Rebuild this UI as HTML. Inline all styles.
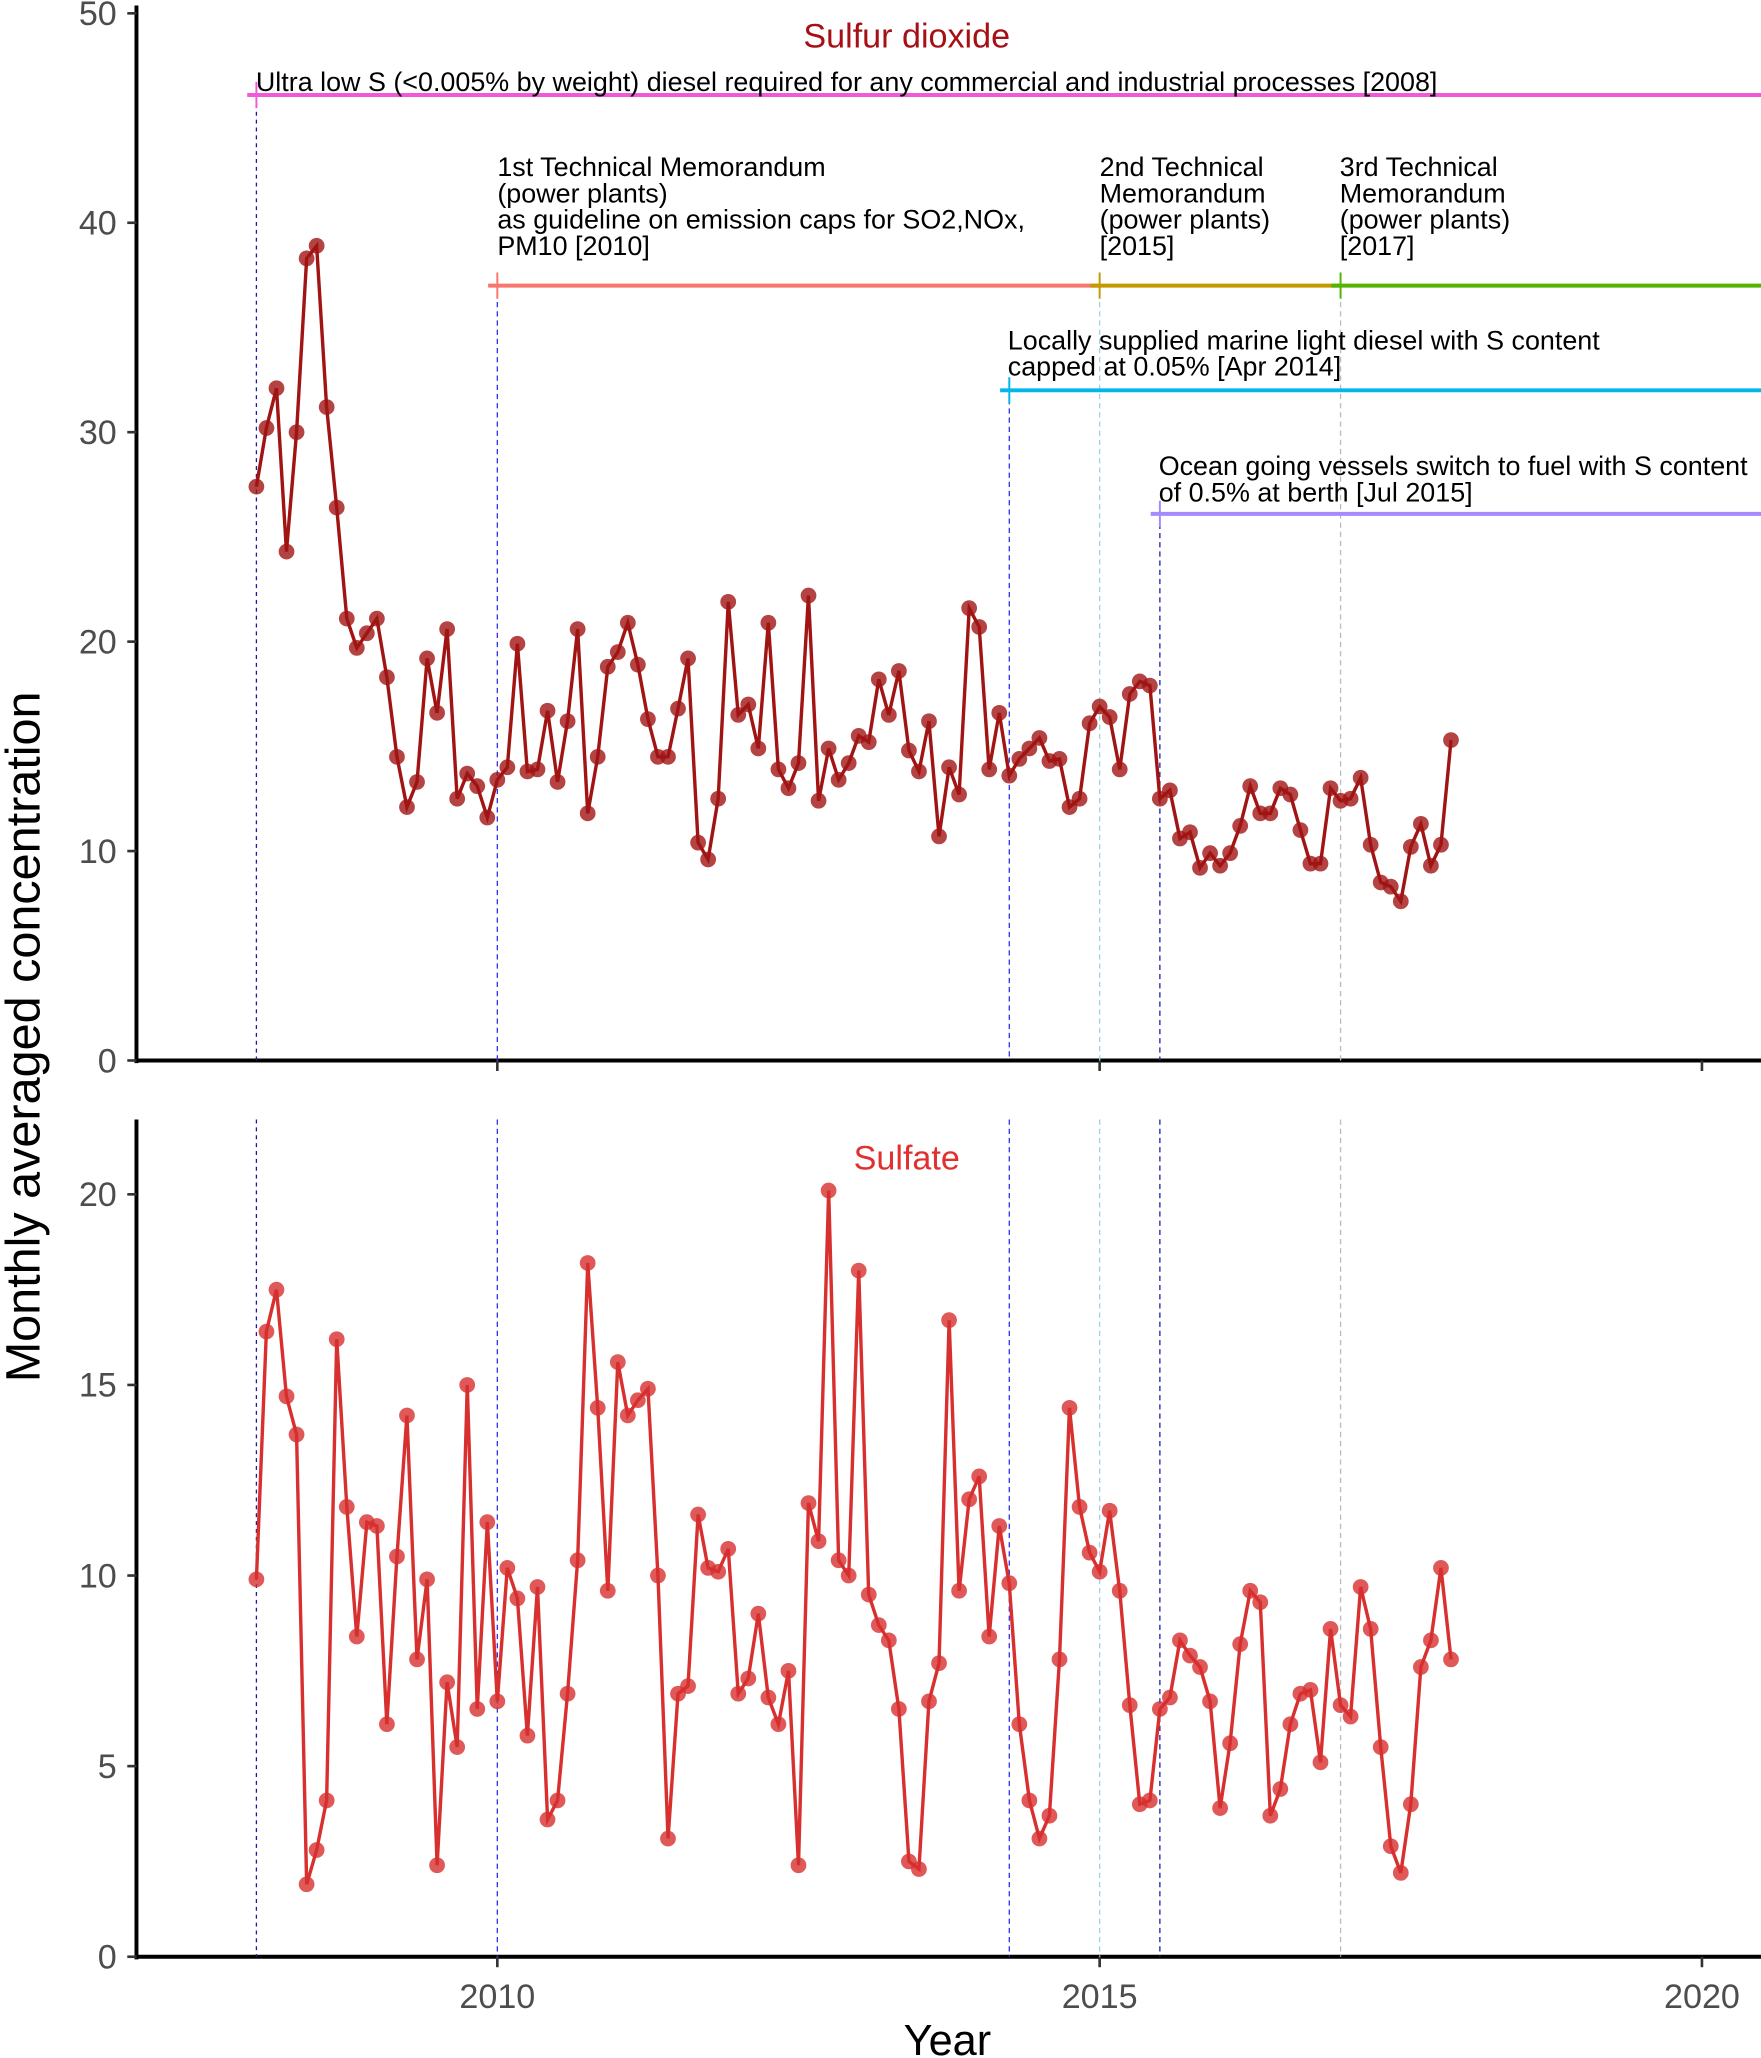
<!DOCTYPE html>
<html><head><meta charset="utf-8"><style>
html,body{margin:0;padding:0;background:#fff;}
svg{display:block;}
text{font-family:"Liberation Sans",Arial,sans-serif;}
</style></head><body>
<svg id="chart" width="1761" height="2058" viewBox="0 0 1342 1568" xmlns="http://www.w3.org/2000/svg"></svg>
<script>
const so2Values = [27.4,30.2,32.1,24.3,30.0,38.3,38.9,31.2,26.4,21.1,19.7,20.4,
21.1,18.3,14.5,12.1,13.3,19.2,16.6,20.6,12.5,13.7,13.1,11.6,
13.4,14.0,19.9,13.8,13.9,16.7,13.3,16.2,20.6,11.8,14.5,18.8,
19.5,20.9,18.9,16.3,14.5,14.5,16.8,19.2,10.4,9.6,12.5,21.9,
16.5,17.0,14.9,20.9,13.9,13.0,14.2,22.2,12.4,14.9,13.4,14.2,
15.5,15.2,18.2,16.5,18.6,14.8,13.8,16.2,10.7,14.0,12.7,21.6,
20.7,13.9,16.6,13.6,14.4,14.9,15.4,14.3,14.4,12.1,12.5,16.1,
16.9,16.4,13.9,17.5,18.1,17.9,12.5,12.9,10.6,10.9,9.2,9.9,
9.3,9.9,11.2,13.1,11.8,11.8,13.0,12.7,11.0,9.4,9.4,13.0,
12.4,12.5,13.5,10.3,8.5,8.3,7.6,10.2,11.3,9.3,10.3,15.3];
const sulfateValues = [9.9,16.4,17.5,14.7,13.7,1.9,2.8,4.1,16.2,11.8,8.4,11.4,
11.3,6.1,10.5,14.2,7.8,9.9,2.4,7.2,5.5,15.0,6.5,11.4,
6.7,10.2,9.4,5.8,9.7,3.6,4.1,6.9,10.4,18.2,14.4,9.6,
15.6,14.2,14.6,14.9,10.0,3.1,6.9,7.1,11.6,10.2,10.1,10.7,
6.9,7.3,9.0,6.8,6.1,7.5,2.4,11.9,10.9,20.1,10.4,10.0,
18.0,9.5,8.7,8.3,6.5,2.5,2.3,6.7,7.7,16.7,9.6,12.0,
12.6,8.4,11.3,9.8,6.1,4.1,3.1,3.7,7.8,14.4,11.8,10.6,
10.1,11.7,9.6,6.6,4.0,4.1,6.5,6.8,8.3,7.9,7.6,6.7,
3.9,5.6,8.2,9.6,9.3,3.7,4.4,6.1,6.9,7.0,5.1,8.6,
6.6,6.3,9.7,8.6,5.5,2.9,2.2,4.0,7.6,8.3,10.2,7.8];
const startYear = 2008.0;
const xTicks = [2010, 2015, 2020];
const so2Ticks = [0, 10, 20, 30, 40, 50];
const sulfateTicks = [0, 5, 10, 15, 20];
const eventYears = [2008.0, 2010.0, 2014.25, 2015.0, 2015.5, 2017.0];
const policyLevels = [46.1, 37.0, 37.0, 37.0, 32.0, 26.1];

const NS = "http://www.w3.org/2000/svg";
const svg = document.getElementById('chart');
function mk(tag, attrs, parent) {
  const e = document.createElementNS(NS, tag);
  for (const k in attrs) e.setAttribute(k, attrs[k]);
  (parent || svg).appendChild(e);
  return e;
}
const X = yr => 379 + (yr - 2010) * 91.8;
const Y1 = v => 808 - v * 15.96;
const Y2 = v => 1491 - v * 29.05;
const monthYear = i => startYear + i / 12;

function axes(Yf, ticks, top, bottom, name) {
  const g = mk('g', {});
  
  
  mk('line', {x1:104, y1:top, x2:104, y2:bottom+2, stroke:'#000', 'stroke-width':3}, g);
  mk('line', {x1:103, y1:bottom, x2:1342, y2:bottom, stroke:'#000', 'stroke-width':3}, g);
  ticks.forEach(t => {
    mk('line', {x1:97, y1:Yf(t), x2:104, y2:Yf(t), stroke:'#333', 'stroke-width':2}, g);
    const tx = mk('text', {x:89, y:Yf(t)+9, 'text-anchor':'end', 'font-size':26, fill:'#4d4d4d'}, g);
    tx.textContent = t;
    
    
  });
  xTicks.forEach(t => {
    mk('line', {x1:X(t), y1:bottom, x2:X(t), y2:bottom+8, stroke:'#333', 'stroke-width':2}, g);
  });
}
axes(Y1, so2Ticks, 4, 808, 'so2-axes');
axes(Y2, sulfateTicks, 853, 1491, 'sulfate-axes');
xTicks.forEach(t => {
  const tx = mk('text', {x:X(t), y:1530, 'text-anchor':'middle', 'font-size':26, fill:'#4d4d4d'});
  tx.textContent = t;
  
  
});

const vStyles = [
  {stroke:'#1a1aa0', dash:'3,3'}, {stroke:'#3333ee', dash:'4,3'}, {stroke:'#3333ee', dash:'4,3'},
  {stroke:'#9fd3e8', dash:'4,3'}, {stroke:'#2222aa', dash:'4,3'}, {stroke:'#bbbbbb', dash:'4,3'}];
eventYears.forEach((yr, i) => {
  [[10, 808], [853, 1491]].forEach(r => {
    const l = mk('line', {x1:X(yr), y1:i===0?73:(i===1||i===3||i===5?216:(i===2?297:392)), x2:X(yr), y2:r[1], stroke:vStyles[i].stroke, 'stroke-width':1, 'stroke-dasharray':vStyles[i].dash});
    if (r[0] === 853) l.setAttribute('y1', 853);
    
    
  });
});

const segs = [
  {s:0, e:null, c:'#f15ad6'}, {s:1, e:3, c:'#f8766d'}, {s:3, e:5, c:'#c49a00'},
  {s:5, e:null, c:'#53b400'}, {s:2, e:null, c:'#00b6eb'}, {s:4, e:null, c:'#a58aff'}];
segs.forEach((sg, i) => {
  const x1 = X(eventYears[sg.s]);
  const x2 = sg.e === null ? 1342 : X(eventYears[sg.e]);
  const y = Y1(policyLevels[i]);
  const l = mk('line', {x1:x1-7, y1:y, x2:x2, y2:y, stroke:sg.c, 'stroke-width':3});
  
  
  mk('line', {x1:x1, y1:y-10, x2:x1, y2:y+10, stroke:sg.c, 'stroke-width':1.5});
});

function label(lines, x, y, name) {
  const t = mk('text', {x:x, y:y, 'font-size':20.5, fill:'#000'});
  
  
  lines.forEach((ln, i) => {
    const s = mk('tspan', {x:x, dy: i===0 ? 0 : 20}, t);
    s.textContent = ln;
  });
}
label(['Ultra low S (<0.005% by weight) diesel required for any commercial and industrial processes [2008]'], 195, 69, 'annotation-ultra-low-s');
label(['1st Technical Memorandum','(power plants)','as guideline on emission caps for SO2,NOx,','PM10 [2010]'], 379, 134, 'annotation-1st-memo');
label(['2nd Technical','Memorandum','(power plants)','[2015]'], 838, 134, 'annotation-2nd-memo');
label(['3rd Technical','Memorandum','(power plants)','[2017]'], 1021, 134, 'annotation-3rd-memo');
label(['Locally supplied marine light diesel with S content','capped at 0.05% [Apr 2014]'], 768, 266, 'annotation-marine-diesel');
label(['Ocean going vessels switch to fuel with S content','of 0.5% at berth [Jul 2015]'], 883, 362, 'annotation-ocean-vessels');

function series(vals, Yf, color, name) {
  const pts = vals.map((v, i) => X(monthYear(i)).toFixed(1) + ',' + Yf(v).toFixed(1)).join(' ');
  const pl = mk('polyline', {points:pts, fill:'none', stroke:color, 'stroke-width':2.6});
  
  
  vals.forEach((v, i) => {
    const c = mk('circle', {cx:X(monthYear(i)), cy:Yf(v), r:6, fill:color, 'fill-opacity':0.8});
    
    
  });
}
series(so2Values, Y1, '#a11414', 'so2');
series(sulfateValues, Y2, '#d7302f', 'sulfate');

const t1 = mk('text', {x:691, y:36, 'text-anchor':'middle', 'font-size':26, fill:'#a50f15'});
t1.textContent = 'Sulfur dioxide';


const t2 = mk('text', {x:691, y:891, 'text-anchor':'middle', 'font-size':26, fill:'#e0302f'});
t2.textContent = 'Sulfate';


const yt = mk('text', {x:0, y:0, 'text-anchor':'middle', 'font-size':37, fill:'#000', transform:'translate(30,790) rotate(-90)'});
yt.textContent = 'Monthly averaged concentration';


const xt = mk('text', {x:722, y:1566, 'text-anchor':'middle', 'font-size':33, fill:'#000'});
xt.textContent = 'Year';


</script>
</body></html>
